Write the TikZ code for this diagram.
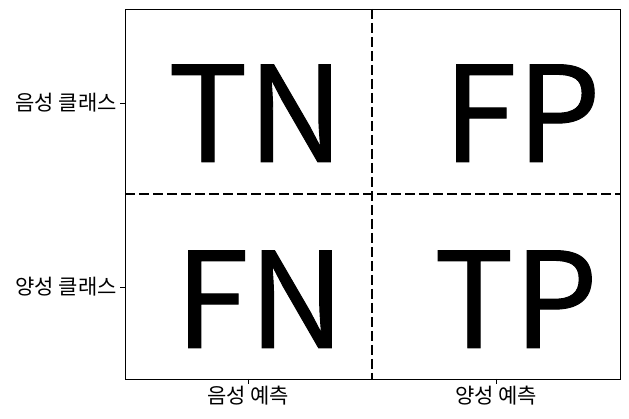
\documentclass[tikz,border=0pt]{standalone}
\usepackage{fontspec}
\setmainfont{Noto Sans CJK KR}
\newfontfamily\bigfont[FakeBold=0.7]{Noto Sans CJK KR}
\begin{document}
\begin{tikzpicture}[x=1pt,y=-1pt,
  big/.style={font=\bigfont\fontsize{133}{133}\selectfont, inner sep=0pt, anchor=base},
  lab/.style={font=\fontsize{21}{21}\selectfont, inner sep=0pt},
  divider/.style={line width=2.5pt, dash pattern=on 10pt off 4pt},
  spine/.style={line width=0.9pt},
  tick/.style={line width=0.9pt}]
\useasboundingbox (0,0) rectangle (629,419);
\fill[white] (0,0) rectangle (629,419);
\coordinate (tl) at (125,9);
\coordinate (br) at (620,379);
\coordinate (vt) at (372,9);
\coordinate (vb) at (372,379);
\coordinate (hl) at (125,194);
\coordinate (hr) at (620,194);
\draw[divider] (vt) -- (vb);
\draw[divider] (hl) -- (hr);
\draw[spine] (tl) rectangle (br);
% ticks
\coordinate (yt1) at (125,103); \coordinate (yt1o) at (120,103);
\coordinate (yt2) at (125,287); \coordinate (yt2o) at (120,287);
\coordinate (xt1) at (248,379); \coordinate (xt1o) at (248,384);
\coordinate (xt2) at (496,379); \coordinate (xt2o) at (496,384);
\draw[tick] (yt1) -- (yt1o);
\draw[tick] (yt2) -- (yt2o);
\draw[tick] (xt1) -- (xt1o);
\draw[tick] (xt2) -- (xt2o);
\node[lab, anchor=east] (l1) at (117,103) {음성 클래스};
\node[lab, anchor=east] (l2) at (117,287) {양성 클래스};
\node[lab, anchor=north] (b1) at (248,386) {음성 예측};
\node[lab, anchor=north] (b2) at (496,386) {양성 예측};
\node[big] (tn) at (256,162) {TN};
\node[big] (fp) at (522,162) {FP};
\node[big] (fn) at (260,348) {FN};
\node[big] (tp) at (516,348) {TP};
\end{tikzpicture}
\end{document}
